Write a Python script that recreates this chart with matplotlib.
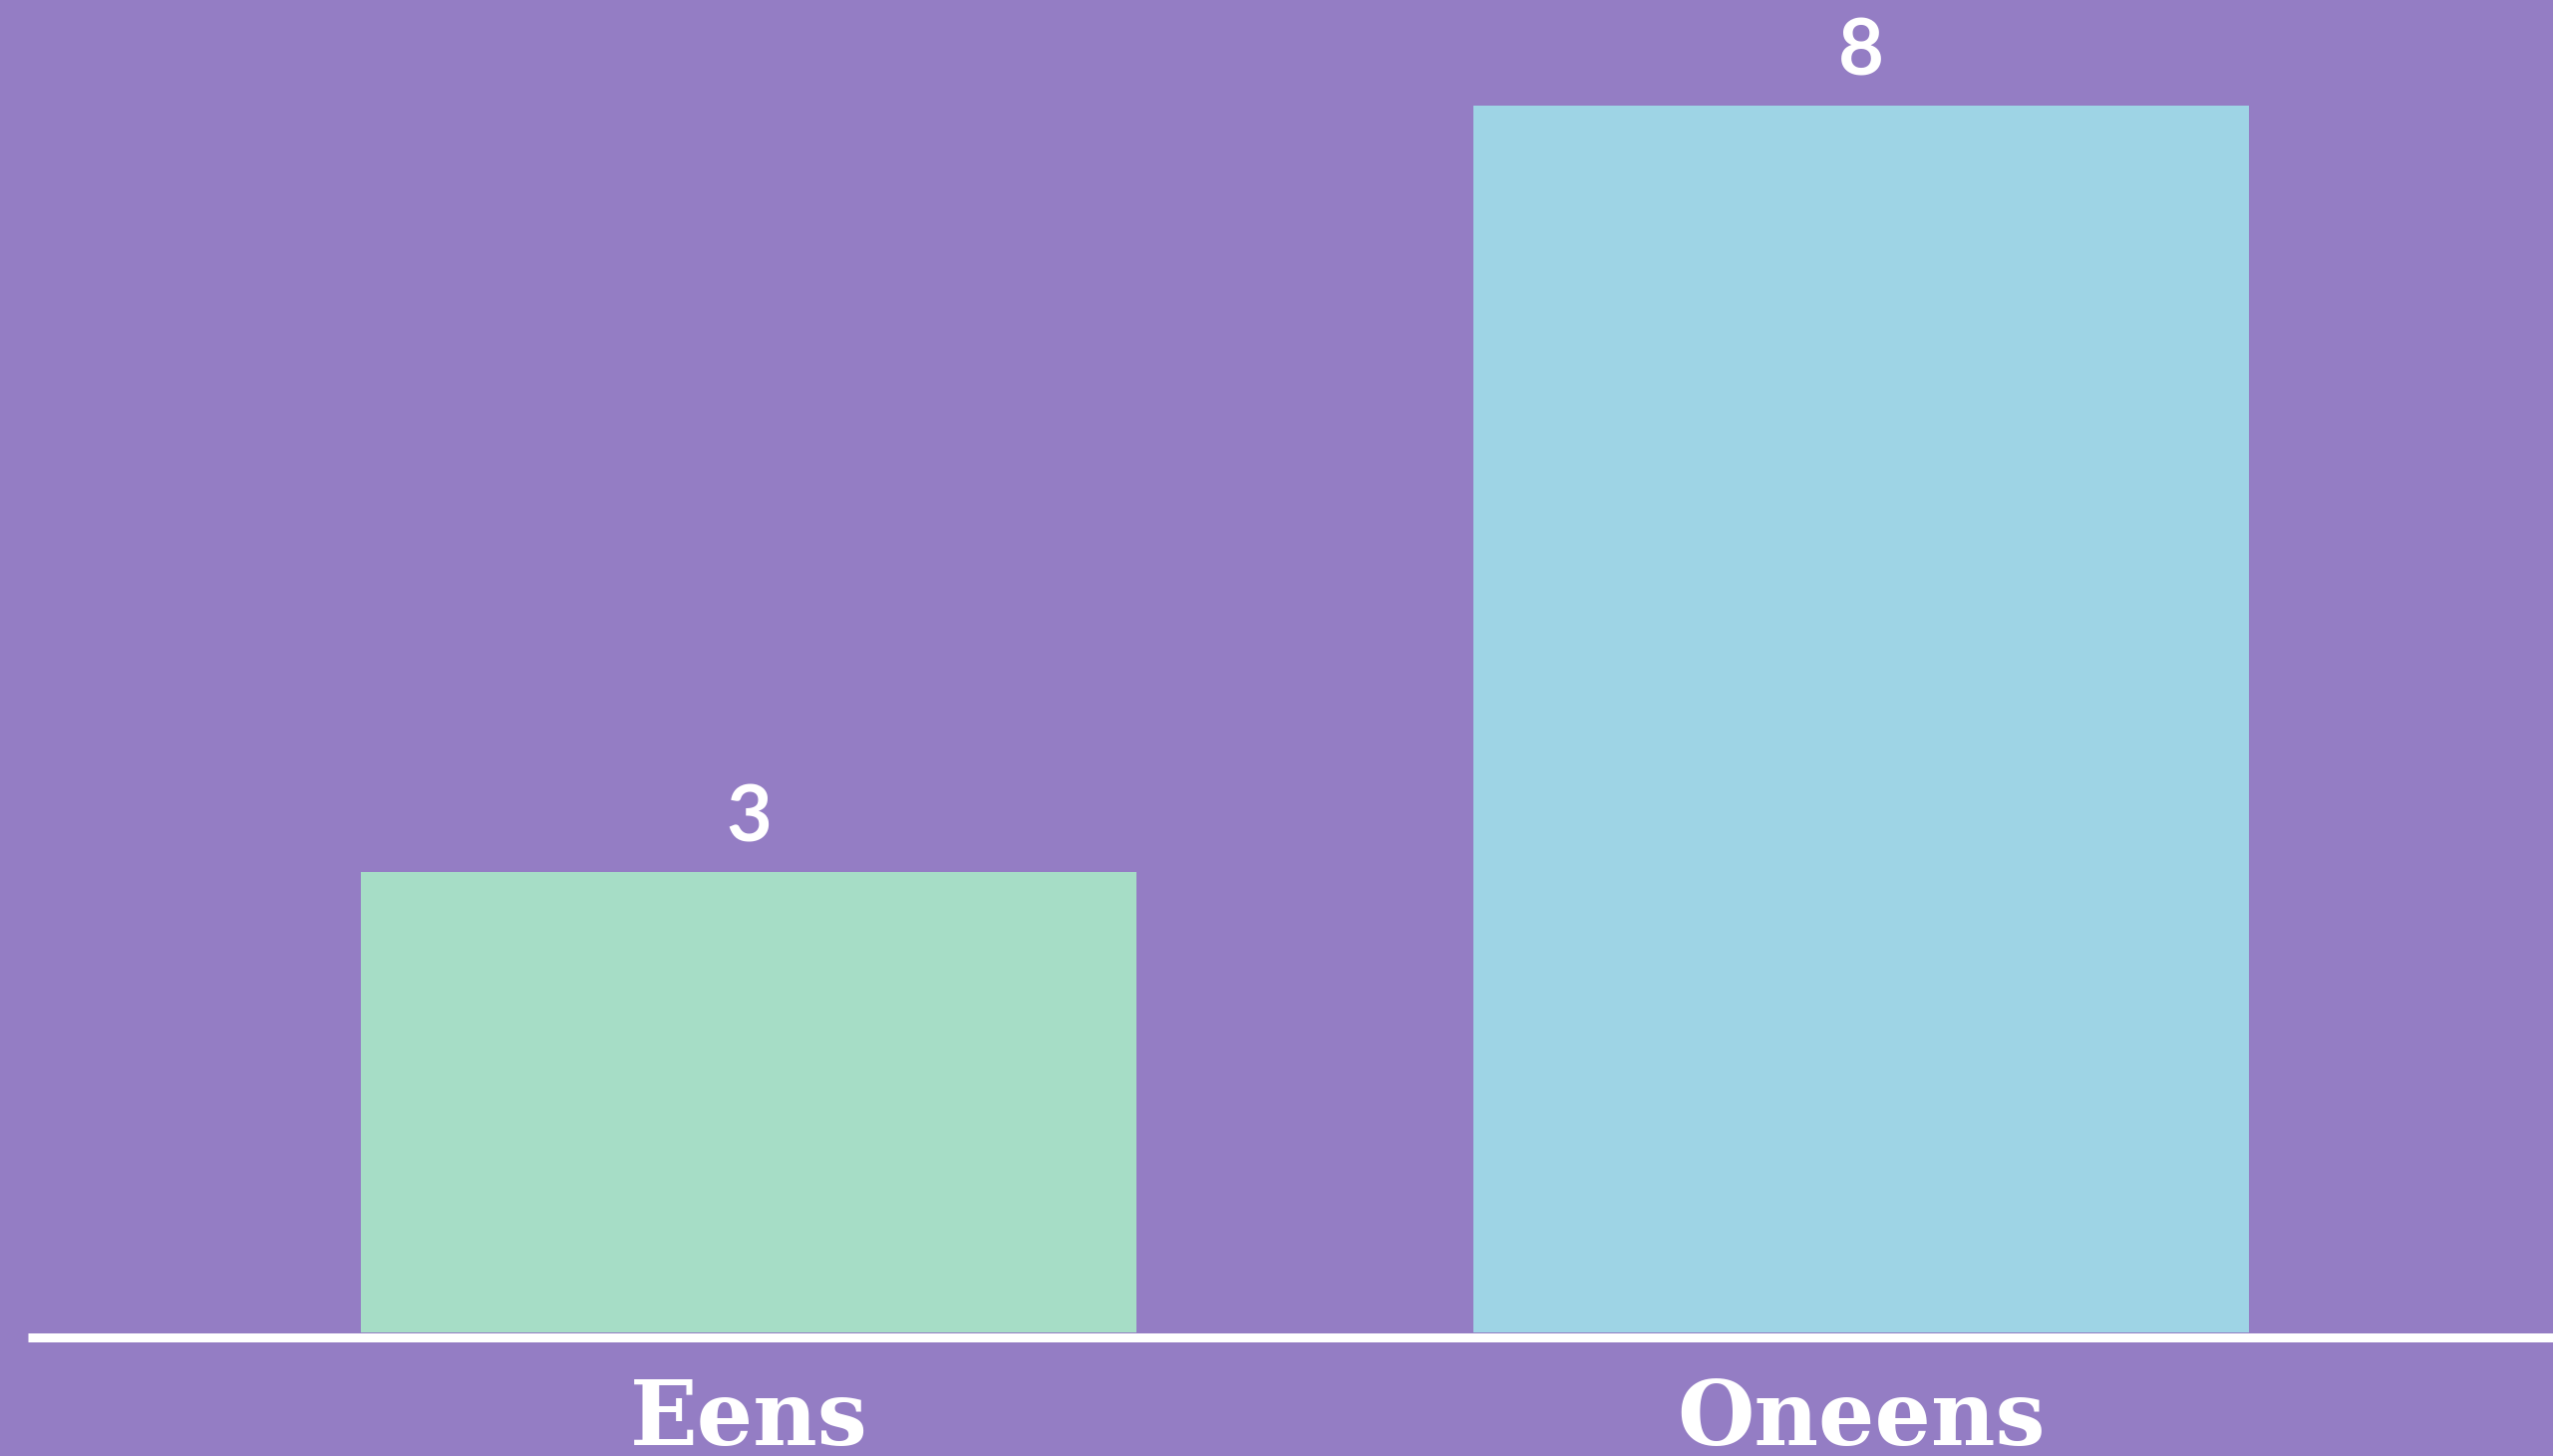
import matplotlib
matplotlib.use("Agg")
import matplotlib.pyplot as plt
from matplotlib.lines import Line2D
from matplotlib.transforms import blended_transform_factory

categories = ["Eens", "Oneens"]
values = [3, 8]
bar_colors = ["#A6DDC6", "#9ED4E5"]
bg = "#947DC4"

W, H = 2561, 1461
fig = plt.figure(figsize=(W / 100, H / 100), dpi=100, facecolor=bg)
base_px = 1337  # from top
ax = fig.add_axes([0, (H - base_px) / H, 1, base_px / H])
ax.set_facecolor(bg)
for s in ax.spines.values():
    s.set_visible(False)
ax.set_xticks([])
ax.set_yticks([])

x = list(range(len(categories)))
ax.bar(x, values, width=0.697, color=bar_colors, zorder=2)
ax.set_xlim(-0.673, 1.622)
ax.set_ylim(0, 8 * base_px / (base_px - 106))

for xi, v in zip(x, values):
    ax.annotate(str(v), (xi, v), xytext=(0, 22), textcoords="offset points",
                ha="center", va="baseline", color="white", fontsize=57,
                fontweight="bold", family="Lato")

trans = blended_transform_factory(ax.transData, fig.transFigure)
for xi, c in zip(x, categories):
    ax.text(xi, (H - 1450) / H, c, transform=trans, ha="center", va="baseline",
            color="white", fontsize=64, fontweight="bold", family="DejaVu Serif",
            clip_on=False)

fig.add_artist(Line2D([28 / W, 1], [(H - 1342) / H] * 2, color="white",
                      linewidth=9 / 100 * 72, solid_capstyle="butt"))

fig.savefig("out.png", dpi=100, facecolor=bg)
